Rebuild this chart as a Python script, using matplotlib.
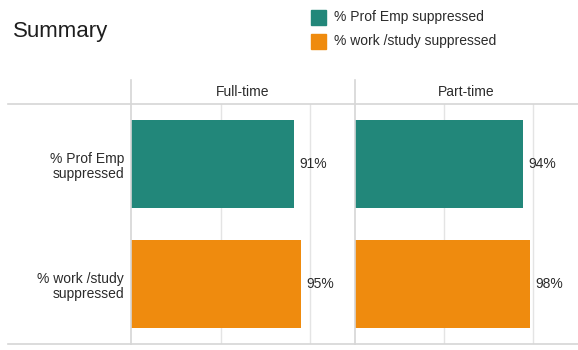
import matplotlib
matplotlib.use("Agg")
import matplotlib.pyplot as plt
from matplotlib.patches import Rectangle
from matplotlib.lines import Line2D

plt.rcParams['font.family'] = ['Liberation Sans', 'DejaVu Sans']

# Data
panels = ["Full-time", "Part-time"]
categories = ["% Prof Emp\nsuppressed", "% work /study\nsuppressed"]
series_names = ["% Prof Emp suppressed", "% work /study suppressed"]
full_time = [91, 95]
part_time = [94, 98]
values = [full_time, part_time]
colors = ["#22877a", "#ef8b0e"]

W, H = 578, 350
fig = plt.figure(figsize=(W / 100, H / 100), dpi=100)


def fx(px):
    return px / W


def fy(py):
    return 1 - py / H


text_color = "#2b2b2b"
grid_color = "#e4e4e4"
frame_color = "#d6d6d6"

ax_top, ax_bot = 104, 344
panel_edges = [(131, 355), (355, 578)]

axes = []
for i, (x0, x1) in enumerate(panel_edges):
    ax = fig.add_axes([fx(x0), fy(ax_bot), fx(x1 - x0), (ax_bot - ax_top) / H])
    vals = values[i]
    ax.barh(range(len(categories)), vals, height=0.74, color=colors, zorder=3)
    for j, v in enumerate(vals):
        ax.annotate(f"{v}%", xy=(v, j), xytext=(4, 0), textcoords="offset points",
                    va="center", ha="left", fontsize=10, color=text_color, zorder=5)
    ax.set_xlim(0, 125)
    ax.set_ylim(1.5, -0.5)
    ax.set_xticks([50, 100])
    ax.set_axisbelow(True)
    ax.xaxis.grid(True, color=grid_color, linewidth=1)
    ax.tick_params(axis="x", length=0, labelbottom=False)
    for s in ax.spines.values():
        s.set_visible(False)
    if i == 0:
        ax.set_yticks(range(len(categories)))
        ax.set_yticklabels(categories, fontsize=10, color=text_color, linespacing=1.15)
        ax.tick_params(axis="y", length=0, pad=5)
    else:
        ax.set_yticks([])
    ax.text(0.5, (ax_top - 92) / (ax_bot - ax_top) + 1, panels[i], transform=ax.transAxes,
            ha="center", va="center", fontsize=10, color=text_color)
    axes.append(ax)

# Frame lines of the table layout
for yy in (ax_top, ax_bot):
    fig.add_artist(Line2D([fx(8), fx(578)], [fy(yy), fy(yy)], color=frame_color, linewidth=1.2))
for xx in (131, 355):
    fig.add_artist(Line2D([fx(xx), fx(xx)], [fy(80), fy(ax_bot)], color=frame_color, linewidth=1.2))

# Title
fig.text(fx(13), fy(32), "Summary", fontsize=16, color="#1e1e1e", ha="left", va="center")

# Legend
for k, (name, c) in enumerate(zip(series_names, colors)):
    top = 10 + k * 23.5
    fig.add_artist(Rectangle((fx(311), fy(top + 15)), fx(15), 15 / H, color=c,
                             transform=fig.transFigure))
    fig.text(fx(334), fy(top + 7.5), name, fontsize=10, color=text_color, ha="left", va="center")

fig.savefig("out.png", dpi=100)
